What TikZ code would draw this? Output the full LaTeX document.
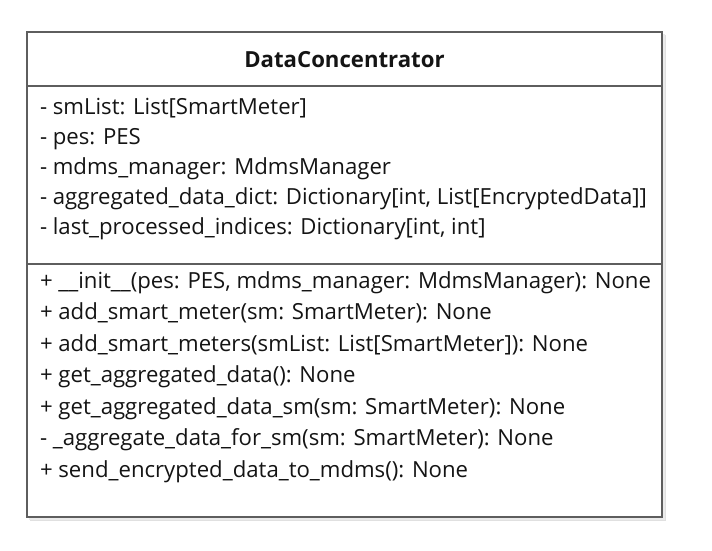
\documentclass[tikz,border=0pt]{standalone}
\usepackage{fontspec}
\setmainfont{Open Sans}
\definecolor{frame}{HTML}{5E5E5E}
\definecolor{ink}{HTML}{141414}
\newlength{\widestline}
\begin{document}
\settowidth{\widestline}{\fontsize{10pt}{12pt}\selectfont - aggregated\_data\_dict: Dictionary[int, List[EncryptedData]]}%
\pgfmathsetmacro{\fsz}{10*607/\widestline}%
\pgfmathsetmacro{\lsz}{1.2*\fsz}%
\begin{tikzpicture}[x=1pt,y=-1pt,
  every node/.style={inner sep=0pt, outer sep=0pt, text=ink, font=\fontsize{\fsz pt}{\lsz pt}\selectfont},
  member/.style={anchor=base west},
  title/.style={anchor=base, font=\fontsize{\fsz pt}{\lsz pt}\selectfont\bfseries}]
\useasboundingbox (0,0) rectangle (712,551);
% shadow
\fill[black!12] (30,35) rectangle (666,521);
\fill[black!8] (29,34) rectangle (665,520);
\fill[white] (27,32) rectangle (662,517);
\draw[frame, line width=1.4pt] (27,32) rectangle (662,517);
\coordinate (sepA) at (27,86);
\coordinate (sepAe) at (662,86);
\coordinate (sepB) at (27,264);
\coordinate (sepBe) at (662,264);
\draw[frame, line width=1.2pt] (sepA) -- (sepAe);
\draw[frame, line width=1.2pt] (sepB) -- (sepBe);
\node[title] (t) at (344.5,67) {DataConcentrator};
\node[member] (a1) at (40,114) {- smList: List[SmartMeter]};
\node[member] (a2) at (40,144) {- pes: PES};
\node[member] (a3) at (40,174) {- mdms\_manager: MdmsManager};
\node[member] (a4) at (40,204) {- aggregated\_data\_dict: Dictionary[int, List[EncryptedData]]};
\node[member] (a5) at (40,234) {- last\_processed\_indices: Dictionary[int, int]};
\node[member] (m1) at (40,288) {+ \_\_init\_\_(pes: PES, mdms\_manager: MdmsManager): None};
\node[member] (m2) at (40,319.5) {+ add\_smart\_meter(sm: SmartMeter): None};
\node[member] (m3) at (40,351) {+ add\_smart\_meters(smList: List[SmartMeter]): None};
\node[member] (m4) at (40,382.5) {+ get\_aggregated\_data(): None};
\node[member] (m5) at (40,414) {+ get\_aggregated\_data\_sm(sm: SmartMeter): None};
\node[member] (m6) at (40,445.5) {- \_aggregate\_data\_for\_sm(sm: SmartMeter): None};
\node[member] (m7) at (40,477) {+ send\_encrypted\_data\_to\_mdms(): None};
\end{tikzpicture}
\end{document}
